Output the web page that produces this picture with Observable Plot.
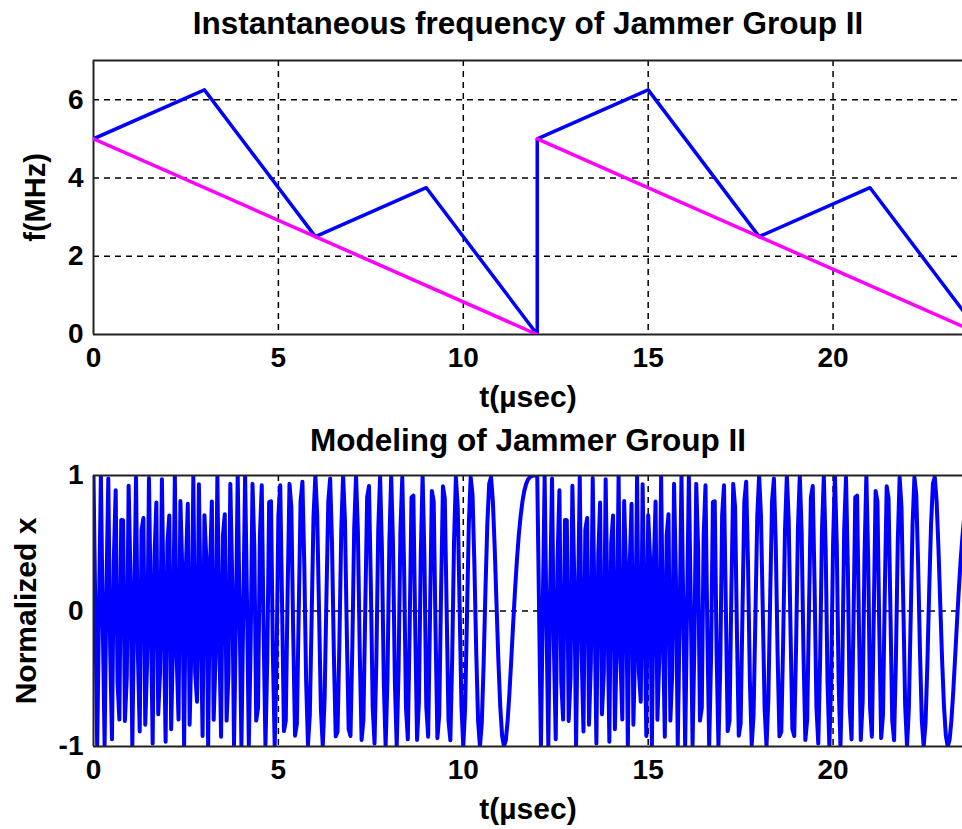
<!DOCTYPE html>
<html><head><meta charset="utf-8">
<script src="https://cdn.jsdelivr.net/npm/d3@7"></script>
<script src="https://cdn.jsdelivr.net/npm/@observablehq/plot@0.6"></script>
<style>
html,body{margin:0;padding:0;background:#fff;}
#c svg{display:block;}
</style></head>
<body><div id="c"></div>
<script>
// ---- data ----
const title1 = "Instantaneous frequency of Jammer Group II";
const title2 = "Modeling of Jammer Group II";
const xLabel = "t(\u00B5sec)";
const yLabel1 = "f(MHz)";
const yLabel2 = "Normalized x";
const xTicks = [0, 5, 10, 15, 20];
const fTicks = [0, 2, 4, 6];
const xnTicks = [-1, 0, 1];
// blue: instantaneous frequency breakpoints (t in µs, f in MHz)
const blueT = [0, 3, 6, 9, 12, 12, 15, 18, 21, 24];
const blueF = [5, 6.25, 2.5, 3.75, 0, 5, 6.25, 2.5, 3.75, 0];
// magenta: reference linear sweep, two segments
const magT = [0, 12, 12, 24];
const magF = [5, 0, 5, 0];
const magSeg = [0, 0, 1, 1];
const sampleRate = 20; // MHz, samples of the modelled waveform

const blue = blueT.map((t, i) => ({t, f: blueF[i]}));
const mag = magT.map((t, i) => ({t, f: magF[i], seg: magSeg[i]}));

// waveform: cosine of the integrated blue instantaneous frequency
function cycles(t) {
  let c = 0;
  for (let i = 0; i < blueT.length - 1; i++) {
    const t0 = blueT[i], t1 = blueT[i + 1];
    if (t1 <= t0) continue;
    if (t <= t0) break;
    const te = Math.min(t, t1);
    const f0 = blueF[i], slope = (blueF[i + 1] - f0) / (t1 - t0);
    const d = te - t0;
    c += f0 * d + 0.5 * slope * d * d;
  }
  return c;
}
const sig = [];
const N = Math.round(24 * sampleRate);
for (let k = 0; k <= N; k++) {
  const t = k / sampleRate;
  sig.push({t, x: Math.cos(2 * Math.PI * cycles(t))});
}

const font = "'Liberation Sans', Arial, Helvetica, sans-serif";
const style = {fontFamily: font, fontWeight: "bold", background: "white", color: "black", overflow: "visible"};
const gridStyle = {stroke: "black", strokeOpacity: 1, strokeDasharray: "6,5", strokeWidth: 1.5};
const frameStyle = {stroke: "#222", strokeWidth: 2};
const tickFmt = d => String(d);

const p1 = Plot.plot({
  width: 962, height: 415,
  marginTop: 60, marginBottom: 81, marginLeft: 93, marginRight: 0,
  x: {domain: [0, 23.5]}, y: {domain: [0, 7]},
  style,
  marks: [
    Plot.gridX(xTicks.slice(1), gridStyle),
    Plot.gridY(fTicks.slice(1), gridStyle),
    Plot.ruleX([0], frameStyle),
    Plot.ruleY([0, 7], frameStyle),
    Plot.line(blue, {x: "t", y: "f", stroke: "#0000ff", strokeWidth: 3.5, clip: true}),
    Plot.line(mag, {x: "t", y: "f", z: "seg", stroke: "#ff00ff", strokeWidth: 3.5, clip: true}),
    Plot.axisX(xTicks, {tickSize: 0, tickPadding: 13, fontSize: 28, label: null, tickFormat: tickFmt}),
    Plot.axisY(fTicks, {tickSize: 0, tickPadding: 10, fontSize: 28, label: null, tickFormat: tickFmt}),
    Plot.text([title1], {frameAnchor: "top", dy: -37, fontSize: 31.5, lineAnchor: "middle", textAnchor: "middle"}),
    Plot.text([xLabel], {frameAnchor: "bottom", dy: 63, fontSize: 30, lineAnchor: "middle", textAnchor: "middle"}),
    Plot.text([yLabel1], {frameAnchor: "left", dx: -58, rotate: -90, fontSize: 29, lineAnchor: "middle", textAnchor: "middle"})
  ]
});

const p2 = Plot.plot({
  width: 962, height: 414,
  marginTop: 60, marginBottom: 83, marginLeft: 93, marginRight: 0,
  x: {domain: [0, 23.5]}, y: {domain: [-1, 1]},
  style,
  marks: [
    Plot.gridX(xTicks.slice(1), gridStyle),
    Plot.gridY([0], gridStyle),
    Plot.line(sig, {x: "t", y: "x", stroke: "#0000ff", strokeWidth: 4, clip: true}),
    Plot.ruleX([0], frameStyle),
    Plot.ruleY([-1, 1], frameStyle),
    Plot.axisX(xTicks, {tickSize: 0, tickPadding: 13, fontSize: 28, label: null, tickFormat: tickFmt}),
    Plot.axisY(xnTicks, {tickSize: 0, tickPadding: 10, fontSize: 28, label: null, tickFormat: tickFmt}),
    Plot.text([title2], {frameAnchor: "top", dy: -35, fontSize: 31.5, lineAnchor: "middle", textAnchor: "middle"}),
    Plot.text([xLabel], {frameAnchor: "bottom", dy: 63, fontSize: 30, lineAnchor: "middle", textAnchor: "middle"}),
    Plot.text([yLabel2], {frameAnchor: "left", dx: -67, rotate: -90, fontSize: 30, lineAnchor: "middle", textAnchor: "middle"})
  ]
});

const c = document.getElementById("c");
c.appendChild(p1);
c.appendChild(p2);
</script>
</body></html>
